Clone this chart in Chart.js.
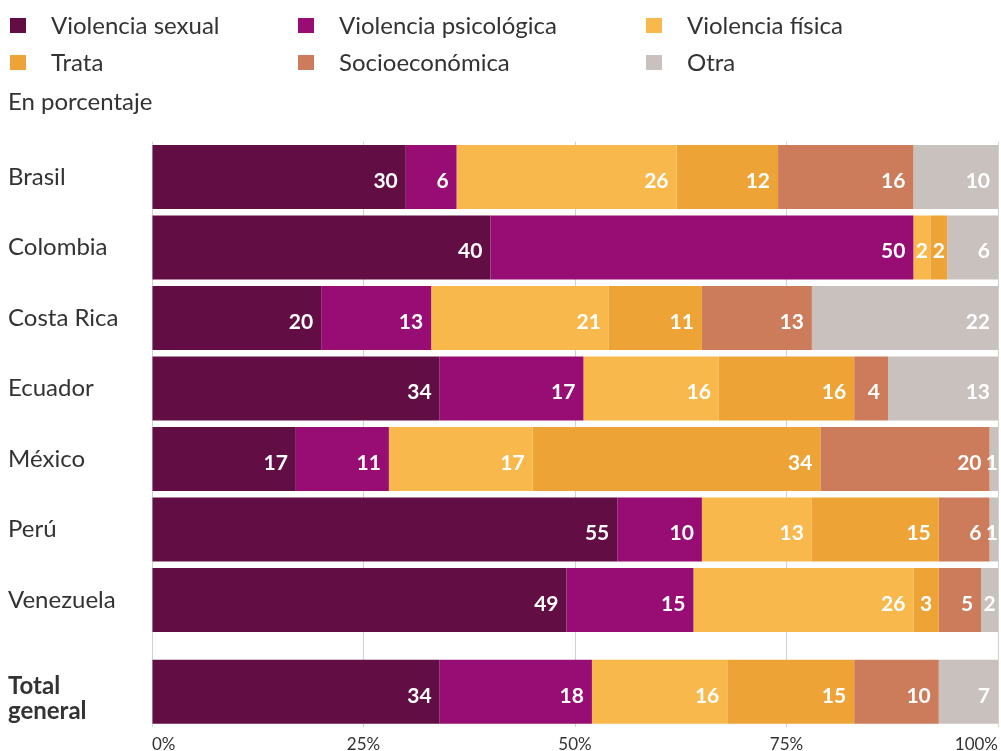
<!DOCTYPE html>
<html lang="es">
<head>
<meta charset="utf-8">
<title>Tipos de violencia por país</title>
<script src="https://cdn.jsdelivr.net/npm/chart.js@4.4.1/dist/chart.umd.min.js"></script>
<style>
  html, body { margin: 0; padding: 0; background: #fff; overflow: hidden; }
  #wrap { position: relative; width: 1001px; height: 751px; }
</style>
</head>
<body>
<div id="wrap"><canvas id="violenciaChart"></canvas></div>
<script>
// Datos (en porcentaje)
const paises = ['Brasil', 'Colombia', 'Costa Rica', 'Ecuador', 'México', 'Perú', 'Venezuela', 'Total general'];
const violenciaSexual      = [30, 40, 20, 34, 17, 55, 49, 34];
const violenciaPsicologica = [ 6, 50, 13, 17, 11, 10, 15, 18];
const violenciaFisica      = [26,  2, 21, 16, 17, 13, 26, 16];
const trata                = [12,  2, 11, 16, 34, 15,  3, 15];
const socioeconomica       = [16,  0, 13,  4, 20,  6,  5, 10];
const otra                 = [10,  6, 22, 13,  1,  1,  2,  7];

const series = [
    { label: 'Violencia sexual',      data: violenciaSexual,      color: '#620E45' },
    { label: 'Violencia psicológica', data: violenciaPsicologica, color: '#970D73' },
    { label: 'Violencia física',      data: violenciaFisica,      color: '#F9B84C' },
    { label: 'Trata',                 data: trata,                color: '#EDA335' },
    { label: 'Socioeconómica',        data: socioeconomica,       color: '#CC7C5B' },
    { label: 'Otra',                  data: otra,                 color: '#C9C1BE' }
];

const TEXTO = '#333333';
const FUENTE = 'Lato, "Open Sans", sans-serif';

// la fila del total va un poco separada del resto
const separacionTotal = 0.3;
const ultimo = paises.length - 1;
const filaPos = i => (i === ultimo ? i + separacionTotal : i);
const posiciones = paises.map((p, i) => filaPos(i));
// la etiqueta de dos líneas queda un poco más baja que el centro de la barra
const bajadaEtiquetaTotal = 0.1;

// leyenda en tres columnas + subtítulo
const leyenda = {
    id: 'leyenda',
    afterDraw(chart) {
        const ctx = chart.ctx;
        const colX = [10, 298, 646];
        const filaY = [18, 55];
        ctx.save();
        ctx.font = '24px ' + FUENTE;
        ctx.textBaseline = 'alphabetic';
        ctx.textAlign = 'left';
        chart.data.datasets.forEach((ds, i) => {
            const x = colX[i % 3];
            const y = filaY[Math.floor(i / 3)];
            ctx.fillStyle = ds.backgroundColor;
            ctx.fillRect(x, y, 16, 15);
            ctx.fillStyle = TEXTO;
            ctx.fillText(ds.label, x + 41, y + 16);
        });
        ctx.fillText('En porcentaje', 8, 110);
        ctx.restore();
    }
};

// valores dentro de cada tramo, alineados a la derecha
const etiquetasBarras = {
    id: 'etiquetasBarras',
    afterDatasetsDraw(chart) {
        const ctx = chart.ctx;
        ctx.save();
        ctx.font = 'bold 21px ' + FUENTE;
        ctx.fillStyle = '#fff';
        ctx.textAlign = 'right';
        ctx.textBaseline = 'middle';
        chart.data.datasets.forEach((ds, i) => {
            chart.getDatasetMeta(i).data.forEach((bar, j) => {
                const v = ds.data[j].x;
                if (!v) return;
                const texto = String(v);
                const ancho = Math.abs(bar.x - bar.base);
                const tw = ctx.measureText(texto).width;
                const pad = Math.max(0, Math.min(8, (ancho - tw) / 2));
                ctx.fillText(texto, bar.x - pad, bar.y + 4);
            });
        });
        ctx.restore();
    }
};

const ctx = document.getElementById('violenciaChart').getContext('2d');
new Chart(ctx, {
    type: 'bar',
    data: {
        datasets: series.map(s => ({
            label: s.label,
            data: s.data.map((v, j) => ({ x: v, y: filaPos(j) })),
            backgroundColor: s.color,
            borderWidth: 0,
            categoryPercentage: 1,
            barPercentage: 0.908
        }))
    },
    options: {
        indexAxis: 'y',
        responsive: true,
        maintainAspectRatio: false,
        animation: false,
        layout: { padding: { top: 141.75, left: 8, right: 3, bottom: 0 } },
        scales: {
            x: {
                stacked: true,
                min: 0,
                max: 100,
                border: { display: false },
                grid: { color: '#d2d2d2', lineWidth: 1, drawTicks: false },
                ticks: {
                    stepSize: 25,
                    align: 'inner',
                    padding: 7,
                    color: TEXTO,
                    font: { family: FUENTE, size: 17 },
                    callback: v => v + '%'
                },
                afterFit: scale => {
                    scale.height = 24;
                    scale.paddingLeft = 0;
                    scale.paddingRight = 0;
                }
            },
            y: {
                type: 'linear',
                stacked: true,
                reverse: true,
                offset: false,
                min: -0.5,
                max: ultimo + separacionTotal + 0.5,
                border: { display: false },
                grid: { display: false },
                afterBuildTicks: scale => {
                    scale.ticks = posiciones.map((v, i) => ({
                        value: i === ultimo ? v + bajadaEtiquetaTotal : v
                    }));
                },
                ticks: {
                    autoSkip: false,
                    crossAlign: 'far',
                    color: TEXTO,
                    font: ctx => ({
                        family: FUENTE,
                        size: 24,
                        weight: ctx.index === ultimo ? 'bold' : 'normal',
                        lineHeight: 1.04
                    }),
                    callback: (v, i) => (i === ultimo ? paises[i].split(' ') : paises[i])
                },
                afterFit: scale => {
                    scale.width = 144;
                    scale.paddingTop = 0;
                    scale.paddingBottom = 0;
                }
            }
        },
        plugins: {
            legend: { display: false },
            tooltip: { enabled: false }
        }
    },
    plugins: [leyenda, etiquetasBarras]
});
</script>
</body>
</html>
